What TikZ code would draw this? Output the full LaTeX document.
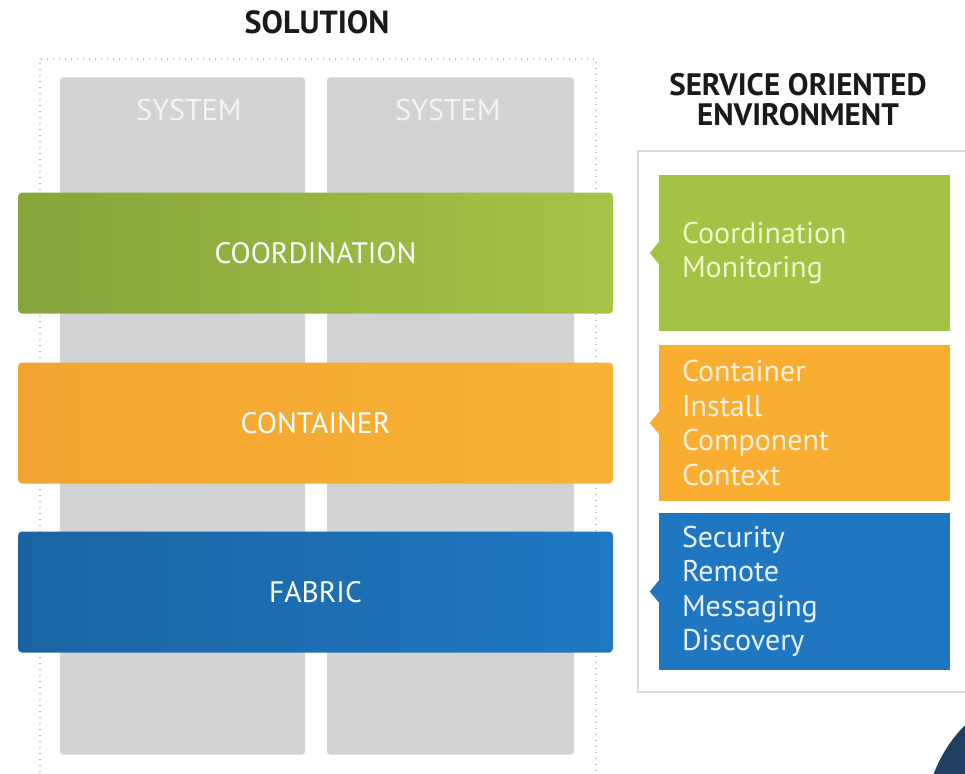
\documentclass[tikz,border=0pt]{standalone}
\usepackage{fontspec}
\setmainfont{PT Sans}
\definecolor{titlecol}{HTML}{1A1A1A}
\definecolor{colgray}{HTML}{D1D3D4}
\definecolor{systxt}{HTML}{F3F3F3}
\definecolor{dotcol}{HTML}{BDBDBD}
\definecolor{gL}{HTML}{86A53B}
\definecolor{gR}{HTML}{A7C447}
\definecolor{oL}{HTML}{F2A432}
\definecolor{oR}{HTML}{F8B334}
\definecolor{bL}{HTML}{1A63A2}
\definecolor{bR}{HTML}{1F78C1}
\definecolor{rgreen}{HTML}{A4C243}
\definecolor{rorange}{HTML}{F9AE32}
\definecolor{rblue}{HTML}{1F76C1}
\definecolor{panelline}{HTML}{DADADA}
\definecolor{navy}{HTML}{1F3F60}
\definecolor{gtxt}{HTML}{EEF6CC}
\definecolor{otxt}{HTML}{FDF1DC}
\definecolor{btxt}{HTML}{E8F1FA}
\begin{document}
\begin{tikzpicture}[x=1pt,y=-1pt,
  titletext/.style={font=\bfseries\fontsize{31}{30}\selectfont, text=titlecol, align=center},
  syscol/.style={fill=colgray, rounded corners=3pt, minimum width=245pt, minimum height=677pt, inner sep=0pt},
  systext/.style={font=\fontsize{30}{30}\selectfont, text=systxt},
  band/.style={rounded corners=4pt, minimum width=595pt, minimum height=121pt, inner sep=0pt, text=white, font=\fontsize{29.5}{30}\selectfont},
  rbox/.style={minimum width=291pt, text width=245pt, inner xsep=23pt, inner ysep=0pt, align=left, font=\fontsize{30}{34.5}\selectfont},
  dotline/.style={draw=dotcol, line width=1.4pt, dash pattern=on 1.4pt off 4.6pt}
]
\useasboundingbox (0,0) rectangle (965,773);
\fill[white] (0,0) rectangle (965,773);

% left part
\node[titletext, font=\bfseries\fontsize{32}{32}\selectfont] (sol) at (317,22) {SOLUTION};
\coordinate (dA) at (40,790);
\coordinate (dB) at (40,59);
\coordinate (dC) at (596,59);
\coordinate (dD) at (596,790);
\draw[dotline] (dA) -- (dB) -- (dC) -- (dD);

\node[syscol] (sysA) at (182.5,416) {};
\node[syscol, minimum width=247pt] (sysB) at (450.5,416) {};
\node[systext] (sysAlbl) at (189,110) {SYSTEM};
\node[systext] (sysBlbl) at (448,110) {SYSTEM};

\node[band, left color=gL, right color=gR] (coord) at (315.5,253) {COORDINATION};
\node[band, left color=oL, right color=oR] (cont) at (315.5,423) {CONTAINER};
\node[band, left color=bL, right color=bR] (fab) at (315.5,592) {FABRIC};

% right part
\node[titletext] (soe) at (798,100) {SERVICE ORIENTED\\ENVIRONMENT};
\draw[panelline, line width=2pt, fill=white] (638,151) rectangle (990,692);

\node[rbox, fill=rgreen, text=gtxt, minimum height=156pt] (rg) at (804.5,253) {Coordination\\Monitoring};
\node[rbox, fill=rorange, text=otxt, minimum height=156pt] (ro) at (804.5,423) {Container\\Install\\Component\\Context};
\node[rbox, fill=rblue, text=btxt, minimum height=157pt] (rb) at (804.5,591.5) {Security\\Remote\\Messaging\\Discovery};

\fill[rgreen] ([yshift=11pt]rg.west) -- ([xshift=-9pt]rg.west) -- ([yshift=-11pt]rg.west) -- cycle;
\fill[rorange] ([yshift=11pt]ro.west) -- ([xshift=-9pt]ro.west) -- ([yshift=-11pt]ro.west) -- cycle;
\fill[rblue] ([yshift=11pt]rb.west) -- ([xshift=-9pt]rb.west) -- ([yshift=-11pt]rb.west) -- cycle;

% corner shape
\fill[navy] (1062,822) circle (137);
\end{tikzpicture}
\end{document}
